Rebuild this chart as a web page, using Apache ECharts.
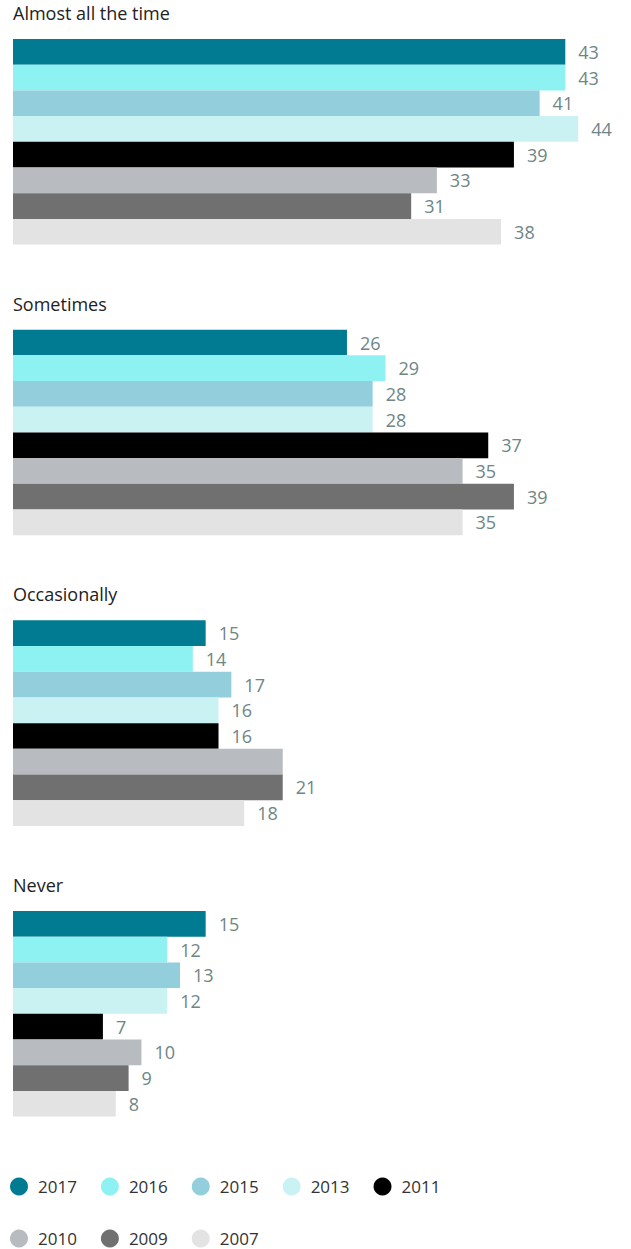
<!DOCTYPE html>
<html>
<head>
<meta charset="utf-8">
<script src="https://cdn.jsdelivr.net/npm/echarts@6/dist/echarts.min.js"></script>
<style>
html,body{margin:0;padding:0;background:#fff;}
#chart{width:631px;height:1249px;}
</style>
</head>
<body>
<div id="chart"></div>
<script>
const categories = ['Almost all the time', 'Sometimes', 'Occasionally', 'Never'];
const years = ['2017', '2016', '2015', '2013', '2011', '2010', '2009', '2007'];
const v2017 = [43, 26, 15, 15];
const v2016 = [43, 29, 14, 12];
const v2015 = [41, 28, 17, 13];
const v2013 = [44, 28, 16, 12];
const v2011 = [39, 37, 16, 7];
const v2010 = [33, 35, 21, 10];
const v2009 = [31, 39, 21, 9];
const v2007 = [38, 35, 18, 8];
const hiddenLabels = [['2010', 2]]; // label not shown in the reference
const values = [v2017, v2016, v2015, v2013, v2011, v2010, v2009, v2007];
const colors = ['#007b92', '#8ef1f2', '#92cedc', '#caf2f2', '#000000', '#b8bbbf', '#707070', '#e3e3e3'];

const FONT = '"Open Sans", "Noto Sans", sans-serif';
const barTop0 = 39, groupStep = 290.67, barH = 25.7;
const grids = [], xAxes = [], yAxes = [], series = [], titles = [];

categories.forEach((cat, g) => {
  const top = barTop0 + g * groupStep;
  grids.push({ left: 13, right: 40, top: top, height: barH * 8, containLabel: false });
  xAxes.push({ type: 'value', gridIndex: g, min: 0, max: 45, show: false });
  yAxes.push({ type: 'category', gridIndex: g, data: [cat], show: false, inverse: true });
  titles.push({
    text: cat, left: 13, top: top - 25.5 - 9.5, padding: 0,
    textStyle: { fontSize: 18, fontWeight: 'normal', color: '#222', fontFamily: FONT }
  });
  years.forEach((yr, k) => {
    const hide = hiddenLabels.some(h => h[0] === yr && h[1] === g);
    series.push({
      name: yr, type: 'bar', xAxisIndex: g, yAxisIndex: g,
      barGap: '0%', barCategoryGap: '0%',
      itemStyle: { color: colors[k] },
      label: {
        show: !hide, position: 'right', distance: 13,
        color: '#6e8686', fontSize: 18, fontFamily: FONT
      },
      emphasis: { disabled: true },
      data: [values[k][g]]
    });
  });
});

const legendCommon = {
  orient: 'horizontal', left: 10, icon: 'circle', itemWidth: 18, itemHeight: 19,
  itemGap: 24, padding: 0,
  textStyle: { fontSize: 17, color: '#333', fontFamily: FONT, padding: [0, 0, 0, 5] }
};

const chart = echarts.init(document.getElementById('chart'), null, { renderer: 'svg' });
chart.setOption({
  animation: false,
  backgroundColor: '#ffffff',
  title: titles,
  grid: grids,
  xAxis: xAxes,
  yAxis: yAxes,
  legend: [
    Object.assign({}, legendCommon, { top: 1177.5, data: years.slice(0, 5) }),
    Object.assign({}, legendCommon, { top: 1229.5, data: years.slice(5) })
  ],
  series: series
});
</script>
</body>
</html>
